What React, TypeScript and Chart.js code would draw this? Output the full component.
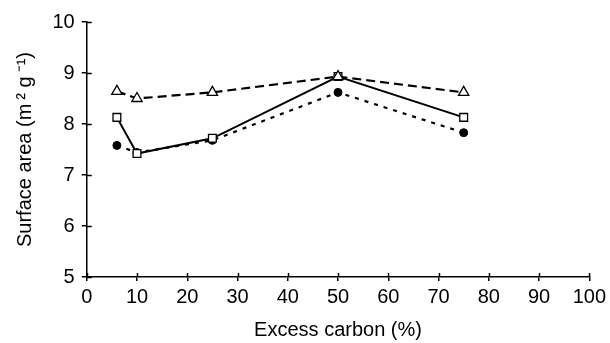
import React, { useEffect, useRef } from "react";
import Chart from "chart.js/auto";

const xValues = [6, 10, 25, 50, 75];
const triangleSeries = [8.64, 8.5, 8.62, 8.93, 8.62];
const squareSeries = [8.13, 7.42, 7.72, 8.93, 8.13];
const circleSeries = [7.58, 7.44, 7.68, 8.62, 7.83];
const xTitle = "Excess carbon (%)";
const yTitle = "Surface area (m\u2009\u00B2 g\u2009\u207B\u00B9)";

const toPoints = (ys: number[]) => ys.map((y, i) => ({ x: xValues[i], y }));

const innerTicks = {
  id: "innerTicks",
  afterDraw(chart: any) {
    const { ctx, chartArea, scales } = chart;
    ctx.save();
    ctx.strokeStyle = "#000";
    ctx.lineWidth = 1.5;
    const xs = scales.x;
    for (let v = 0; v <= 100; v += 10) {
      const px = Math.round(xs.getPixelForValue(v)) + 0.5;
      ctx.beginPath();
      ctx.moveTo(px, chartArea.bottom);
      ctx.lineTo(px, chartArea.bottom - 4);
      ctx.stroke();
    }
    const ys = scales.y;
    for (let v = 5; v <= 10; v += 1) {
      const py = Math.round(ys.getPixelForValue(v)) + 0.5;
      ctx.beginPath();
      ctx.moveTo(chartArea.left, py);
      ctx.lineTo(chartArea.left + 5, py);
      ctx.stroke();
    }
    ctx.restore();
  },
};

export default function App() {
  const ref = useRef<HTMLCanvasElement | null>(null);
  useEffect(() => {
    if (!ref.current) return;
    const font = "'Liberation Sans', Arial, sans-serif";
    const chart = new Chart(ref.current, {
      type: "line",
      data: {
        datasets: [
          {
            label: "triangle",
            data: toPoints(triangleSeries),
            borderColor: "#000",
            backgroundColor: "#fff",
            borderWidth: 2.2,
            borderDash: [9, 5],
            pointStyle: "triangle",
            pointRadius: 6,
            pointBorderWidth: 1.3,
            pointBorderColor: "#000",
            pointBackgroundColor: "#fff",
          },
          {
            label: "square",
            data: toPoints(squareSeries),
            borderColor: "#000",
            backgroundColor: "#fff",
            borderWidth: 2,
            pointStyle: "rect",
            pointRadius: 5.5,
            pointBorderWidth: 1.3,
            pointBorderColor: "#000",
            pointBackgroundColor: "#fff",
          },
          {
            label: "circle",
            data: toPoints(circleSeries),
            borderColor: "#000",
            backgroundColor: "#000",
            borderWidth: 2.2,
            borderDash: [4, 6],
            pointStyle: "circle",
            pointRadius: 4,
            pointBorderWidth: 1,
            pointBorderColor: "#000",
            pointBackgroundColor: "#000",
          },
        ],
      },
      options: {
        responsive: false,
        animation: false,
        layout: { padding: { top: 22, right: 20, left: 13, bottom: 1 } },
        plugins: { legend: { display: false }, tooltip: { enabled: false } },
        scales: {
          x: {
            type: "linear",
            min: 0,
            max: 100,
            ticks: { stepSize: 10, color: "#000", font: { family: font, size: 20 }, padding: 4, maxRotation: 0 },
            grid: { drawOnChartArea: false, drawTicks: true, tickLength: 4, color: "#000", lineWidth: 1.5 },
            border: { color: "#000", width: 1.5 },
            title: { display: true, text: xTitle, color: "#000", font: { family: font, size: 20 }, padding: { top: 5, bottom: 0 } },
          },
          y: {
            type: "linear",
            min: 5,
            max: 10,
            ticks: { stepSize: 1, color: "#000", font: { family: font, size: 20 }, padding: 7 },
            grid: { drawOnChartArea: false, drawTicks: true, tickLength: 5, color: "#000", lineWidth: 1.5 },
            border: { color: "#000", width: 1.5 },
            title: { display: true, text: yTitle, color: "#000", font: { family: font, size: 20 }, padding: { top: 0, bottom: 8.5 } },
          },
        },
      },
      plugins: [innerTicks],
    });
    return () => chart.destroy();
  }, []);
  return (
    <div style={{ position: "absolute", left: 0, top: 0, width: 610, height: 343, background: "#fff" }}>
      <canvas ref={ref} width={610} height={343} />
    </div>
  );
}
